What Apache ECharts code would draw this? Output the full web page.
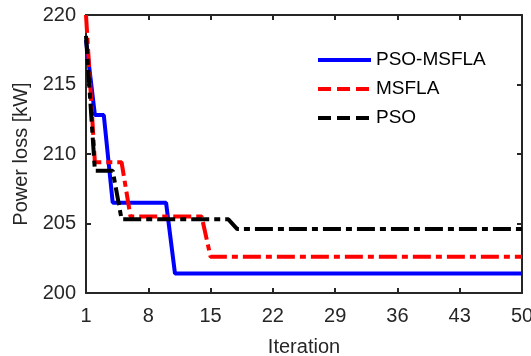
<!DOCTYPE html>
<html>
<head>
<meta charset="utf-8">
<script src="https://cdn.jsdelivr.net/npm/echarts@6/dist/echarts.min.js"></script>
<style>
html,body{margin:0;padding:0;background:#fff;}
#c{width:531px;height:356px;}
</style>
</head>
<body>
<div id="c"></div>
<script>
const iterations = [];
for (let i = 1; i <= 50; i++) iterations.push(i);

const seriesNames = ['PSO-MSFLA', 'MSFLA', 'PSO'];

const psoMsfla = [218.2, 212.8, 212.8, 206.5, 206.5, 206.5, 206.5, 206.5, 206.5, 206.5,
  201.4, 201.4, 201.4, 201.4, 201.4, 201.4, 201.4, 201.4, 201.4, 201.4,
  201.4, 201.4, 201.4, 201.4, 201.4, 201.4, 201.4, 201.4, 201.4, 201.4,
  201.4, 201.4, 201.4, 201.4, 201.4, 201.4, 201.4, 201.4, 201.4, 201.4,
  201.4, 201.4, 201.4, 201.4, 201.4, 201.4, 201.4, 201.4, 201.4, 201.4];

const msfla = [220.0, 209.4, 209.4, 209.4, 209.4, 205.5, 205.5, 205.5, 205.5, 205.5,
  205.5, 205.5, 205.5, 205.5, 202.6, 202.6, 202.6, 202.6, 202.6, 202.6,
  202.6, 202.6, 202.6, 202.6, 202.6, 202.6, 202.6, 202.6, 202.6, 202.6,
  202.6, 202.6, 202.6, 202.6, 202.6, 202.6, 202.6, 202.6, 202.6, 202.6,
  202.6, 202.6, 202.6, 202.6, 202.6, 202.6, 202.6, 202.6, 202.6, 202.6];

const pso = [218.5, 208.8, 208.8, 208.8, 205.3, 205.3, 205.3, 205.3, 205.3, 205.3,
  205.3, 205.3, 205.3, 205.3, 205.3, 205.3, 205.3, 204.6, 204.6, 204.6,
  204.6, 204.6, 204.6, 204.6, 204.6, 204.6, 204.6, 204.6, 204.6, 204.6,
  204.6, 204.6, 204.6, 204.6, 204.6, 204.6, 204.6, 204.6, 204.6, 204.6,
  204.6, 204.6, 204.6, 204.6, 204.6, 204.6, 204.6, 204.6, 204.6, 204.6];

const xTicks = [1, 8, 15, 22, 29, 36, 43, 50];
const yTicks = [200, 205, 210, 215, 220];

function pairs(vals) { return iterations.map((x, i) => [x, vals[i]]); }

const FONT = 'Liberation Sans, Arial, Helvetica, sans-serif';
const AX = '#262626';
const DASHDOT = [18, 5, 6, 5];

const chart = echarts.init(document.getElementById('c'), null, {renderer: 'canvas'});

const axisCommon = {
  axisLine: {show: true, onZero: false, lineStyle: {color: AX, width: 2}},
  axisTick: {show: true, inside: true, length: 5, lineStyle: {color: AX, width: 2}},
  splitLine: {show: false}
};

const legendIconStyle = {color: 'transparent', borderWidth: 0, borderColor: 'transparent'};

chart.setOption({
  animation: false,
  backgroundColor: '#fff',
  grid: {left: 86, right: 9, top: 15, bottom: 63, containLabel: false, outerBoundsMode: 'none'},
  legend: {
    orient: 'vertical',
    left: 311,
    top: 45,
    itemWidth: 53,
    itemHeight: 14,
    itemGap: 9,
    data: [
      {name: seriesNames[0], itemStyle: legendIconStyle, lineStyle: {color: '#0000ff', width: 4, type: 'solid'}},
      {name: seriesNames[1], itemStyle: legendIconStyle, lineStyle: {color: '#ff0000', width: 4, type: [13, 6]}},
      {name: seriesNames[2], itemStyle: legendIconStyle, lineStyle: {color: '#000000', width: 4, type: [13, 6]}}
    ],
    textStyle: {fontFamily: FONT, fontSize: 19, color: '#000', lineHeight: 20}
  },
  xAxis: [
    Object.assign({}, axisCommon, {
      type: 'value', position: 'bottom', min: 1, max: 50, interval: 7,
      name: 'Iteration', nameLocation: 'middle', nameGap: 44,
      nameTextStyle: {fontFamily: FONT, fontSize: 20, color: AX},
      axisLabel: {fontFamily: FONT, fontSize: 20, color: AX, margin: 13,
        formatter: v => (xTicks.indexOf(v) >= 0 ? String(v) : '')}
    }),
    Object.assign({}, axisCommon, {
      type: 'value', position: 'top', min: 1, max: 50, interval: 7,
      axisLabel: {show: false}
    })
  ],
  yAxis: [
    Object.assign({}, axisCommon, {
      type: 'value', position: 'left', min: 200, max: 220, interval: 5,
      name: 'Power loss [kW]', nameLocation: 'middle', nameGap: 55,
      nameTextStyle: {fontFamily: FONT, fontSize: 20, color: AX},
      axisLabel: {fontFamily: FONT, fontSize: 20, color: AX, margin: 10,
        formatter: v => (yTicks.indexOf(v) >= 0 ? String(v) : '')}
    }),
    Object.assign({}, axisCommon, {
      type: 'value', position: 'right', min: 200, max: 220, interval: 5,
      axisLabel: {show: false}
    })
  ],
  series: [
    {
      name: seriesNames[0], type: 'line', data: pairs(psoMsfla),
      symbol: 'none', color: '#0000ff',
      lineStyle: {color: '#0000ff', width: 4, type: 'solid'}
    },
    {
      name: seriesNames[1], type: 'line', data: pairs(msfla),
      symbol: 'none', color: '#ff0000',
      lineStyle: {color: '#ff0000', width: 4, type: DASHDOT, cap: 'butt'}
    },
    {
      name: seriesNames[2], type: 'line', data: pairs(pso),
      symbol: 'none', color: '#000000',
      lineStyle: {color: '#000000', width: 4, type: DASHDOT, cap: 'butt'}
    }
  ]
});
</script>
</body>
</html>
